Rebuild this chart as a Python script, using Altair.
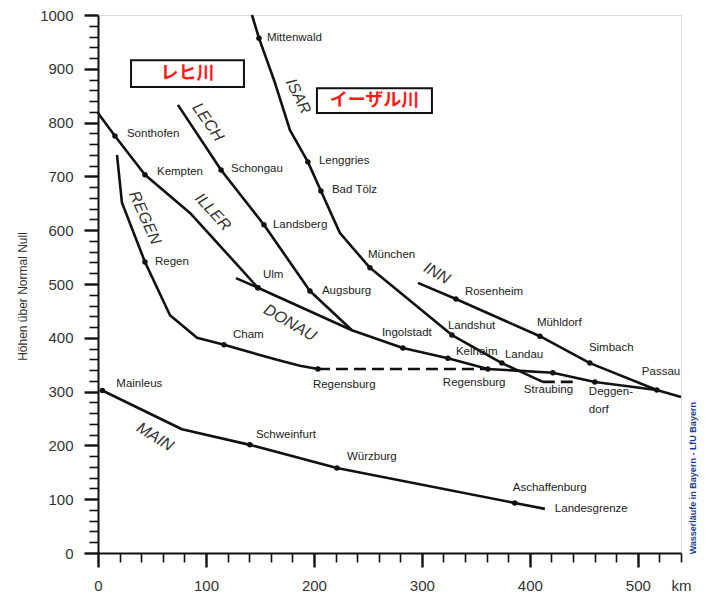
import altair as alt
import pandas as pd

# ---------------- data (km from source / height m) ----------------
isar_km = [142.6, 149.1, 163.9, 177.8, 194.4, 206.5, 224.0, 251.9, 327.8, 374.1, 412.0]
isar_m = [1000, 957, 874, 786, 727, 673, 595, 530, 405, 353, 318]
isar_st = ["", "Mittenwald", "", "", "Lenggries", "Bad Tölz", "", "München", "Landshut", "Landau", ""]

lech_km = [74.0, 114.0, 153.7, 196.3, 235.2]
lech_m = [833, 712, 610, 487, 414]
lech_st = ["", "Schongau", "Landsberg", "Augsburg", ""]

iller_km = [0.0, 15.7, 43.5, 85.2, 131.5, 148.1]
iller_m = [818, 775, 703, 632, 530, 493]
iller_st = ["", "Sonthofen", "Kempten", "", "", "*"]

regen_km = [17.6, 22.2, 43.5, 66.7, 91.7, 116.7, 165.7, 187.0, 203.7]
regen_m = [740, 651, 541, 442, 400, 387, 359, 348, 342]
regen_st = ["", "", "Regen", "", "", "Cham", "", "", "Regensburg"]

donau_km = [127.8, 148.1, 235.2, 282.4, 324.1, 361.1, 421.3, 460.2, 517.6, 540.0]
donau_m = [511, 493, 414, 381, 362, 342, 335, 318, 303, 290]
donau_st = ["", "Ulm", "", "Ingolstadt", "Kelheim", "Regensburg", "Straubing", "Deggendorf", "Passau", ""]

inn_km = [296.3, 331.5, 409.3, 455.6, 517.6]
inn_m = [502, 472, 403, 353, 303]
inn_st = ["", "Rosenheim", "Mühldorf", "Simbach", ""]

main_km = [4.0, 77.8, 140.7, 221.3, 386.0, 413.9]
main_m = [302, 230, 201, 158, 93, 82]
main_st = ["Mainleus", "", "Schweinfurt", "Würzburg", "Aschaffenburg", "Landesgrenze"]

# dashed links (Regensburg, Isar mouth)
link_km = [[203.7, 361.1], [412.0, 441.5]]
link_m = [[342, 342], [318, 318]]

river_names = ["ISAR", "LECH", "ILLER", "REGEN", "DONAU", "INN", "MAIN"]
river_name_km = [185.5, 101.9, 106.5, 43.5, 177.8, 313.9, 52.8]
river_name_m = [849, 801, 634, 623, 428, 520, 216]

note_text = ["レヒ川", "イーザル川"]
note_km0 = [30.6, 202.8]
note_km1 = [135.2, 309.3]
note_m0 = [866, 818]
note_m1 = [916, 864]

y_title = "Höhen über Normal Null"
source_text = "Wasserläufe in Bayern - LfU Bayern"

# ---------------- build tables ----------------
rivers = [
    ("Isar", isar_km, isar_m, isar_st),
    ("Lech", lech_km, lech_m, lech_st),
    ("Iller", iller_km, iller_m, iller_st),
    ("Regen", regen_km, regen_m, regen_st),
    ("Donau", donau_km, donau_m, donau_st),
    ("Inn", inn_km, inn_m, inn_st),
    ("Main", main_km, main_m, main_st),
]
rows = []
for name, kms, ms, sts in rivers:
    for i, (k, m, s) in enumerate(zip(kms, ms, sts)):
        rows.append(dict(river=name, order=i, km=k, m=m, station=s))
df = pd.DataFrame(rows)
df["dot"] = (df["station"] != "") & (df["station"] != "Landesgrenze")
df["label"] = df["station"].replace({"Deggendorf": "Deggen-\ndorf"})

links = pd.DataFrame([dict(link=j, order=i, km=k, m=m)
                      for j, (ks, ms) in enumerate(zip(link_km, link_m))
                      for i, (k, m) in enumerate(zip(ks, ms))])

name_angles = [64, 55, 47, 66, 30, 30, 32]
names = pd.DataFrame(dict(name=river_names, km=river_name_km, m=river_name_m, angle=name_angles))
notes = pd.DataFrame(dict(text=note_text, km=note_km0, km2=note_km1, m=note_m0, m2=note_m1))
notes["kmc"] = (notes.km + notes.km2) / 2
notes["mc"] = (notes.m + notes.m2) / 2

# ---------------- styling ----------------
W, H = 583, 538
FONT = "Liberation Sans"
NARROW = "Liberation Sans Narrow, Liberation Sans, Arial"

major = "datum.value % 100 === 0"
tick_w = {"condition": {"test": major, "value": 2.4}, "value": 1.6}
tick_dash = {"condition": {"test": major, "value": [30, 1]}, "value": [9, 30]}

x_axis = alt.Axis(
    values=list(range(0, 541, 20)), format="d",
    labelExpr="datum.value == 540 ? 'km' : (datum.value % 100 == 0 ? datum.label : '')",
    tickSize=14, tickWidth=tick_w, tickDash=tick_dash,
    tickColor="#111", domainColor="#111", domainWidth=2,
    labelFont=FONT, labelFontSize=15, labelColor="#333", labelPadding=11,
    labelOverlap=False, labelFlush=False, grid=False, title=None,
)
y_axis = alt.Axis(
    values=list(range(0, 1001, 20)), format="d",
    labelExpr="datum.value % 100 == 0 ? datum.label : ''",
    tickSize=14, tickWidth=tick_w, tickDash=tick_dash,
    tickColor="#111", domainColor="#111", domainWidth=2,
    labelFont=FONT, labelFontSize=15, labelColor="#333", labelPadding=11,
    labelOverlap=False, labelFlush=False, grid=False,
    title=y_title, titleFont=FONT, titleFontSize=12, titleFontWeight="normal",
    titleColor="#333", titlePadding=10, titleY=281,
)
xs = alt.Scale(domain=[0, 540], nice=False)
ys = alt.Scale(domain=[0, 1000], nice=False)
X = alt.X("km:Q", scale=xs, axis=x_axis)
Y = alt.Y("m:Q", scale=ys, axis=y_axis)

base = alt.Chart(df)

lines = base.mark_line(color="#111", strokeWidth=2.6, strokeJoin="round").encode(
    x=X, y=Y, detail="river:N", order="order:Q")

dashed = alt.Chart(links).mark_line(color="#111", strokeWidth=2.6, strokeDash=[12, 6]).encode(
    x=X, y=Y, detail="link:N", order="order:Q")

dots = base.transform_filter("datum.dot").mark_point(
    filled=True, color="#111", size=30, opacity=1).encode(x=X, y=Y)

# label offsets (pixels) per (river, station)
offsets = {
    ("Isar", "Mittenwald"): (8, 0), ("Isar", "Lenggries"): (11, -1), ("Isar", "Bad Tölz"): (11, -1),
    ("Isar", "München"): (-2, -13), ("Isar", "Landshut"): (-4, -9), ("Isar", "Landau"): (3, -8),
    ("Lech", "Schongau"): (10, -1), ("Lech", "Landsberg"): (9, 0), ("Lech", "Augsburg"): (12, 0),
    ("Iller", "Sonthofen"): (12, -2), ("Iller", "Kempten"): (12, -3),
    ("Regen", "Regen"): (10, 0), ("Regen", "Cham"): (9, -10), ("Regen", "Regensburg"): (-5, 16),
    ("Donau", "Ulm"): (5, -13), ("Donau", "Ingolstadt"): (-21, -15), ("Donau", "Kelheim"): (8, -6),
    ("Donau", "Regensburg"): (-45, 14), ("Donau", "Straubing"): (-29, 17),
    ("Donau", "Passau"): (-15, -18),
    ("Inn", "Rosenheim"): (9, -7), ("Inn", "Mühldorf"): (-3, -13), ("Inn", "Simbach"): (-1, -15),
    ("Main", "Mainleus"): (14, -7), ("Main", "Schweinfurt"): (6, -10), ("Main", "Würzburg"): (10, -11),
    ("Main", "Aschaffenburg"): (-2, -15), ("Main", "Landesgrenze"): (10, 0),
}
label_layers = []
for (riv, st), (dx, dy) in offsets.items():
    label_layers.append(
        base.transform_filter((alt.datum.river == riv) & (alt.datum.station == st))
        .mark_text(align="left", baseline="middle", dx=dx, dy=dy, font=NARROW,
                   fontSize=11.5, color="#222")
        .encode(x=X, y=Y, text="label:N"))
label_layers.append(
    base.transform_filter((alt.datum.river == "Donau") & (alt.datum.station == "Deggendorf"))
    .mark_text(align="left", baseline="top", dx=-6, dy=4, lineBreak="\n", lineHeight=18,
               font=NARROW, fontSize=11.5, color="#222")
    .encode(x=X, y=Y, text="label:N"))

name_text = alt.Chart(names).mark_text(
    font=NARROW, fontSize=16, fontStyle="italic", color="#333", baseline="middle", align="center"
).encode(x=X, y=Y, text="name:N", angle=alt.Angle("angle:Q", scale=None))

note_box = alt.Chart(notes).mark_rect(fill="white", stroke="#111", strokeWidth=2).encode(
    x=X, x2="km2:Q", y=Y, y2="m2:Q")
note_txt = alt.Chart(notes).mark_text(
    font="Noto Sans CJK JP", fontSize=18, fontWeight="bold", color="#ff1a1a", baseline="middle"
).encode(x=alt.X("kmc:Q", scale=xs, axis=x_axis), y=alt.Y("mc:Q", scale=ys, axis=y_axis), text="text:N")

src = alt.Chart(pd.DataFrame(dict(t=[source_text], km=[540], m=[139]))).mark_text(
    angle=270, dx=0, dy=12, font=FONT, fontSize=9, fontWeight="bold", color="#1c3b8f",
    baseline="middle", align="center"
).encode(x=X, y=Y, text="t:N")

chart = alt.layer(
    lines, dashed, dots, *label_layers, name_text, note_box, note_txt, src
).properties(
    width=W, height=H,
    autosize=alt.AutoSizeParams(type="none"),
    padding={"left": 90, "top": 7, "right": 19, "bottom": 41},
).configure_view(stroke="#111", strokeWidth=2).configure(background="white")

chart.save("out.html", embed_options={"renderer": "svg", "actions": False})
